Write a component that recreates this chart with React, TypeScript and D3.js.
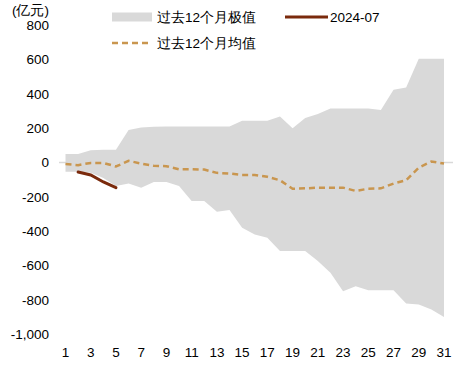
import * as d3 from "d3";
import { useRef, useEffect } from "react";

// days of month
const days = d3.range(1, 32);

// past 12 months max / min (亿元)
const maxValues = [
  50, 50, 72, 75, 75, 189, 204, 208, 210, 210, 210, 210, 210, 210, 243, 243,
  243, 268, 200, 259, 282, 315, 315, 315, 315, 305, 424, 437, 603, 603, 603,
];
const minValues = [
  -54, -54, -60, -90, -136, -122, -146, -113, -113, -136, -223, -223, -286,
  -276, -379, -418, -437, -515, -515, -515, -573, -641, -748, -719, -742, -742,
  -742, -820, -826, -855, -898,
];
// past 12 months mean
const meanValues = [
  -9, -15, -2, -2, -23, 10, -6, -19, -21, -39, -39, -41, -60, -64, -72, -72,
  -83, -103, -152, -150, -146, -146, -146, -165, -152, -150, -122, -103, -29,
  6, -6,
];
// 2024-07
const curDays = [2, 3, 4, 5];
const curValues = [-55, -72, -113, -146];

const yTicks = [800, 600, 400, 200, 0, -200, -400, -600, -800, -1000];
const xTicks = d3.range(1, 32, 2);

export default function App(): JSX.Element {
  const svgRef = useRef<SVGSVGElement>(null);

  useEffect(() => {
    if (!svgRef.current) return;
    const svg = d3.select(svgRef.current);
    svg.selectAll("*").remove();

    const font = "'Liberation Sans', Arial, sans-serif";
    const fs = 13.5;
    const x = d3.scaleLinear().domain([1, 31]).range([65.5, 444]);
    const y = d3.scaleLinear().domain([-1000, 800]).range([334.5, 25]);

    // band of extremes
    const area = d3
      .area<number>()
      .x((d) => x(d))
      .y0((d, i) => y(minValues[i]))
      .y1((d, i) => y(maxValues[i]));
    svg.append("path").datum(days).attr("d", area).attr("fill", "#d9d9d9");

    // zero line
    svg
      .append("line")
      .attr("x1", 59)
      .attr("x2", 453)
      .attr("y1", y(0))
      .attr("y2", y(0))
      .attr("stroke", "#d9d9d9")
      .attr("stroke-width", 1.5);

    // mean line
    const meanLine = d3
      .line<number>()
      .x((d) => x(d))
      .y((d, i) => y(meanValues[i]));
    svg
      .append("path")
      .datum(days)
      .attr("d", meanLine)
      .attr("fill", "none")
      .attr("stroke", "#c9964f")
      .attr("stroke-width", 2.5)
      .attr("stroke-dasharray", "6,4");

    // current month
    const curLine = d3
      .line<number>()
      .x((d) => x(d))
      .y((d, i) => y(curValues[i]));
    svg
      .append("path")
      .datum(curDays)
      .attr("d", curLine)
      .attr("fill", "none")
      .attr("stroke", "#7a2a0c")
      .attr("stroke-width", 3)
      .attr("stroke-linecap", "round");

    // y axis labels
    svg
      .append("g")
      .selectAll("text")
      .data(yTicks)
      .join("text")
      .attr("x", 49)
      .attr("y", (d) => y(d))
      .attr("dy", "0.35em")
      .attr("text-anchor", "end")
      .attr("font-family", font)
      .attr("font-size", fs)
      .text((d) => d3.format(",")(d).replace("−", "-"));

    // x axis labels
    svg
      .append("g")
      .selectAll("text")
      .data(xTicks)
      .join("text")
      .attr("x", (d) => x(d))
      .attr("y", 352)
      .attr("dy", "0.35em")
      .attr("text-anchor", "middle")
      .attr("font-family", font)
      .attr("font-size", fs)
      .text((d) => d);

    // unit
    svg
      .append("text")
      .attr("x", 12)
      .attr("y", 10)
      .attr("dy", "0.35em")
      .attr("font-family", font)
      .attr("font-size", fs)
      .text("(亿元)");

    // legend
    const lg = svg.append("g").attr("font-family", font).attr("font-size", fs);
    lg.append("rect")
      .attr("x", 112)
      .attr("y", 12.5)
      .attr("width", 40)
      .attr("height", 9)
      .attr("fill", "#d9d9d9");
    lg.append("text").attr("x", 157).attr("y", 17).attr("dy", "0.35em").text("过去12个月极值");
    lg.append("line")
      .attr("x1", 285)
      .attr("x2", 328)
      .attr("y1", 17)
      .attr("y2", 17)
      .attr("stroke", "#7a2a0c")
      .attr("stroke-width", 3);
    lg.append("text").attr("x", 330).attr("y", 17).attr("dy", "0.35em").text("2024-07");
    lg.append("line")
      .attr("x1", 112)
      .attr("x2", 150)
      .attr("y1", 43)
      .attr("y2", 43)
      .attr("stroke", "#c9964f")
      .attr("stroke-width", 2.5)
      .attr("stroke-dasharray", "6,4");
    lg.append("text").attr("x", 157).attr("y", 43).attr("dy", "0.35em").text("过去12个月均值");
  }, []);

  return (
    <svg
      ref={svgRef}
      width={466}
      height={368}
      style={{ position: "absolute", left: 0, top: 0 }}
    />
  );
}
